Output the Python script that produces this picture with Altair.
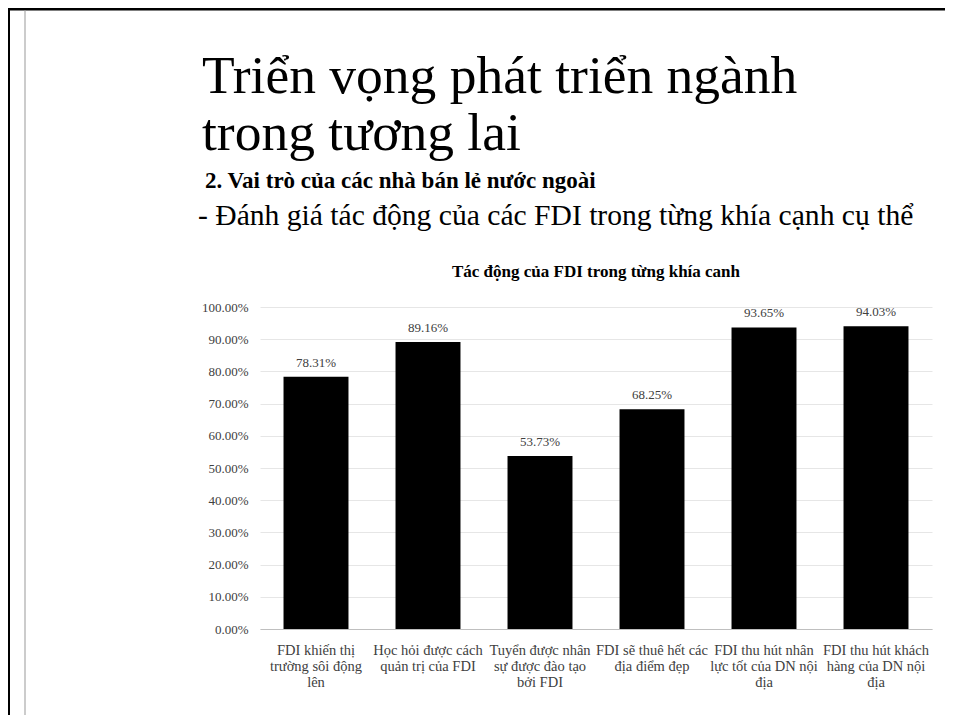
import altair as alt
import pandas as pd

# ---- data ----
categories = [
    "FDI khiến thị\ntrường sôi động\nlên",
    "Học hỏi được cách\nquản trị của FDI",
    "Tuyển được nhân\nsự được đào tạo\nbởi FDI",
    "FDI sẽ thuê hết các\nđịa điểm đẹp",
    "FDI thu hút nhân\nlực tốt của DN nội\nđịa",
    "FDI thu hút khách\nhàng của DN nội\nđịa",
]
values = [0.7831, 0.8916, 0.5373, 0.6825, 0.9365, 0.9403]
y_ticks = [0.0, 0.1, 0.2, 0.3, 0.4, 0.5, 0.6, 0.7, 0.8, 0.9, 1.0]

slide_title_1 = ["Triển vọng phát triển ngành"]
slide_title_2 = ["trong tương lai"]
section_heading = ["2. Vai trò của các nhà bán lẻ nước ngoài"]
bullet_text = ["- Đánh giá tác động của các FDI trong từng khía cạnh cụ thể"]
chart_title = ["Tác động của FDI trong từng khía canh"]

FONT = "Liberation Serif"

df = pd.DataFrame({"cat": categories, "val": values})

x_enc = alt.X(
    "cat:N",
    sort=categories,
    scale=alt.Scale(paddingInner=0.42, paddingOuter=0.21),
    axis=alt.Axis(
        title=None,
        labelAngle=0,
        labelFont=FONT,
        labelFontSize=14.5,
        labelColor="#404040",
        labelExpr="split(datum.label, '\\n')",
        labelLineHeight=16,
        labelPadding=14,
        labelBaseline="top",
        ticks=False,
        domainColor="#bfbfbf",
        domainWidth=1,
        grid=False,
        labelLimit=200,
        labelOverlap=False,
    ),
)
y_enc = alt.Y(
    "val:Q",
    scale=alt.Scale(domain=[0, 1], nice=False),
    axis=alt.Axis(
        title=None,
        values=y_ticks,
        tickCount=len(y_ticks),
        format=".2%",
        labelFont=FONT,
        labelFontSize=13,
        labelColor="#404040",
        labelPadding=12,
        labelOverlap=False,
        ticks=False,
        domain=False,
        gridColor="#e6e6e6",
        gridWidth=1,
    ),
)

base = alt.Chart(df).encode(x=x_enc, y=y_enc)
bars = base.mark_bar(color="#000000")
bar_labels = base.mark_text(
    font=FONT, fontSize=13, color="#404040", baseline="bottom", dy=-7
).encode(text=alt.Text("val:Q", format=".2%"))


def text_layer(lines, size, x, y, weight="normal", align="left"):
    return alt.Chart(pd.DataFrame({"t": lines})).mark_text(
        font=FONT, fontSize=size, fontWeight=weight, color="#000000",
        align=align, baseline="alphabetic"
    ).encode(text="t:N", x=alt.value(x), y=alt.value(y))


title_l1 = text_layer(slide_title_1, 53.5, -58, -214)
title_l2 = text_layer(slide_title_2, 53.5, -58, -157)
heading = text_layer(section_heading, 23, -55, -119, weight="bold")
bullet = text_layer(bullet_text, 29.6, -62, -82)
ctitle = text_layer(chart_title, 17, 336, -30, weight="bold", align="center")

# slide frame and thin decorative vertical line
frame = alt.Chart(pd.DataFrame({"k": [0]})).mark_rect(
    filled=False, stroke="#000000", strokeWidth=3
).encode(x=alt.value(-251.5), x2=alt.value(700), y=alt.value(-298), y2=alt.value(600))
vline = alt.Chart(pd.DataFrame({"k": [0]})).mark_rule(
    color="#999999", strokeWidth=1
).encode(x=alt.value(-235), y=alt.value(-297), y2=alt.value(600))

chart = alt.layer(
    frame, vline, bars, bar_labels, title_l1, title_l2, heading, bullet, ctitle
).properties(
    width=672,
    height=322,
    autosize=alt.AutoSizeParams(type="none"),
    padding={"left": 252, "top": 299, "right": 13, "bottom": 86},
).configure(
    background="#ffffff",
    view=alt.ViewConfig(stroke=None),
)

chart.save("out.html", embed_options={"renderer": "svg", "actions": False})
